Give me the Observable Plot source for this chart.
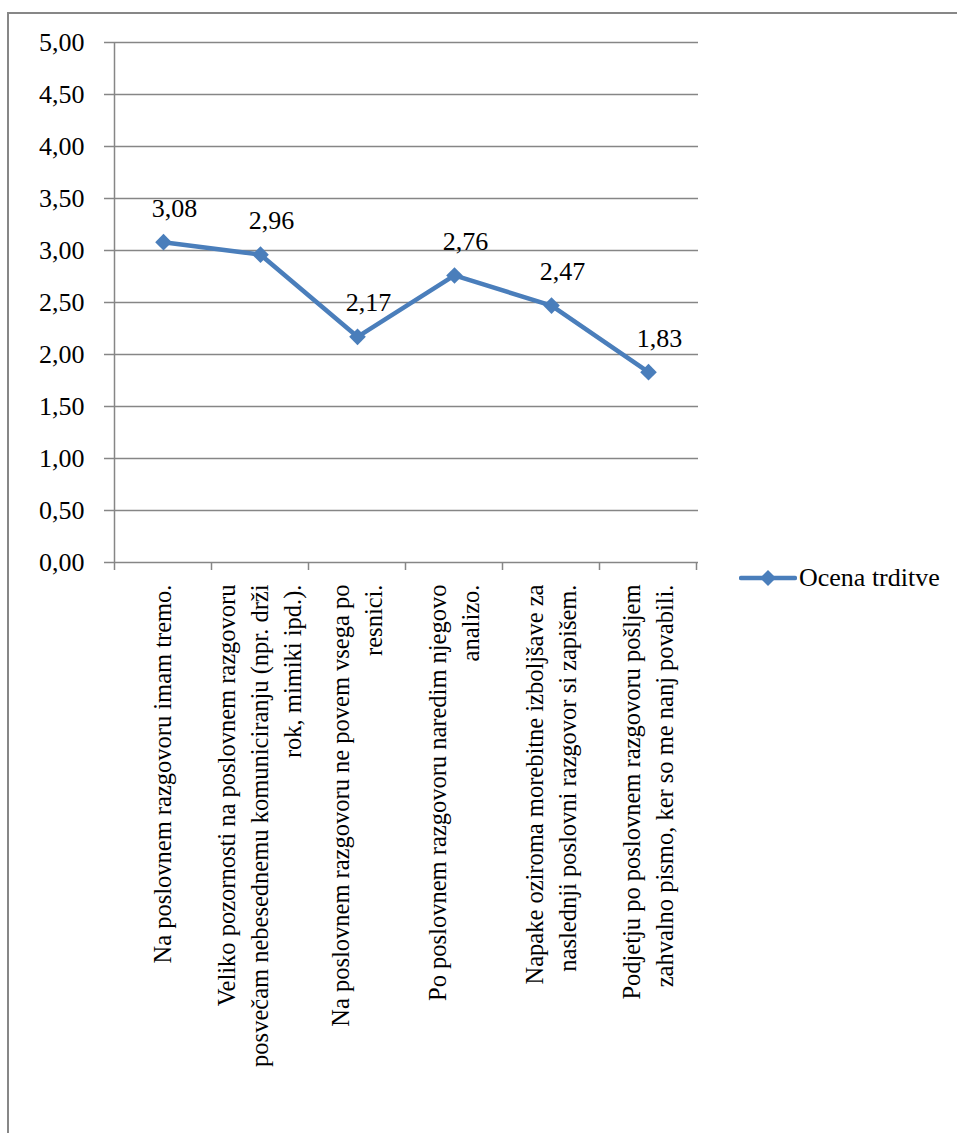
<!DOCTYPE html>
<html><head><meta charset="utf-8">
<script src="https://cdn.jsdelivr.net/npm/d3@7"></script>
<script src="https://cdn.jsdelivr.net/npm/@observablehq/plot@0.6"></script>
<style>
html,body{margin:0;padding:0;background:#fff;overflow:hidden;font-family:'Liberation Serif';}
#wrap{position:relative;width:957px;height:1133px;overflow:hidden;}
#frame{position:absolute;left:7px;top:12px;width:1000px;height:1200px;border-top:2px solid #878787;border-left:2px solid #878787;pointer-events:none;box-sizing:border-box;}
#legend{position:absolute;left:739px;top:563px;height:30px;display:flex;align-items:center;font-family:'Liberation Serif';font-size:26px;color:#000;}
#legend svg{margin-right:2px;}
</style></head><body>
<div id="wrap"><div id="chart"></div><div id="frame"></div>
<div id="legend"><svg width="58" height="30"><line x1="2" y1="15" x2="56" y2="15" stroke="#4a7ebb" stroke-width="4.5" stroke-linecap="round"/><path d="M29,7 L37,15 L29,23 L21,15Z" fill="#4a7ebb"/></svg><span id="legendText"></span></div>
</div>
<script>
const categories = [
  "Na poslovnem razgovoru imam tremo.",
  "Veliko pozornosti na poslovnem razgovoru\nposvečam nebesednemu komuniciranju (npr. drži\nrok, mimiki ipd.).",
  "Na poslovnem razgovoru ne povem vsega po\nresnici.",
  "Po poslovnem razgovoru naredim njegovo\nanalizo.",
  "Napake oziroma morebitne izboljšave za\nnaslednji poslovni razgovor si zapišem.",
  "Podjetju po poslovnem razgovoru pošljem\nzahvalno pismo, ker so me nanj povabili."
];
const values = [3.08, 2.96, 2.17, 2.76, 2.47, 1.83];
const yTicks = [0, 0.5, 1, 1.5, 2, 2.5, 3, 3.5, 4, 4.5, 5];
const seriesName = "Ocena trditve";

const table = categories.map((c, i) => ({cat: c, value: values[i]}));
const fmt = d => d.toFixed(2).replace(".", ",");
const lineColor = "#4a7ebb";
const gridColor = "#868686";
const font = "Liberation Serif";

// boundary tick marks + left axis line drawn with the plot's x scale
function categoryTicks(index, scales, values, dimensions) {
  const x = scales.x;
  const pos = categories.map(c => x(c));
  const step = pos[1] - pos[0];
  const bounds = pos.map(p => p - step / 2).concat([pos[pos.length - 1] + step / 2]);
  const yBase = dimensions.height - dimensions.marginBottom;
  const g = d3.create("svg:g");
  g.selectAll("line.t").data(bounds).join("line")
    .attr("x1", d => d).attr("x2", d => d)
    .attr("y1", yBase).attr("y2", yBase + 8)
    .attr("stroke", gridColor).attr("stroke-width", 1.5);
  g.append("line")
    .attr("x1", bounds[0]).attr("x2", bounds[0])
    .attr("y1", dimensions.marginTop).attr("y2", yBase)
    .attr("stroke", gridColor).attr("stroke-width", 1.5);
  return g.node();
}

const plot = Plot.plot({
  width: 957,
  height: 1133,
  marginLeft: 112,
  marginRight: 259,
  marginTop: 42,
  marginBottom: 571,
  style: "font-family: 'Liberation Serif'; font-size: 26px; color: #000; background: transparent; overflow: visible;",
  x: {type: "point", domain: categories, padding: 0.5, axis: null},
  y: {domain: [0, 5]},
  marks: [
    Plot.gridY(yTicks, {stroke: gridColor, strokeOpacity: 1, strokeWidth: 1.5}),
    Plot.axisY(yTicks, {tickSize: 8, tickPadding: 20, tickFormat: fmt, stroke: gridColor, strokeWidth: 1.5, fill: "#000", fontSize: 26, fontFamily: font, label: null}),
    categoryTicks,
    Plot.text(categories, {x: d => d, text: d => d, frameAnchor: "bottom", rotate: -90, textAnchor: "end", lineAnchor: "middle", dx: -3, dy: 22, lineHeight: 1.35, fontSize: 24.5, fontFamily: font, fill: "#000", ariaLabel: "catlabels"}),
    Plot.line(table, {x: "cat", y: "value", stroke: lineColor, strokeWidth: 4.5, strokeLinejoin: "round"}),
    Plot.dot(table, {x: "cat", y: "value", symbol: "diamond2", r: 7.5, fill: lineColor, stroke: "none"}),
    Plot.text(table, {x: "cat", y: "value", text: d => fmt(d.value), dx: 11, dy: -34, fontSize: 26, fontFamily: font, fill: "#000"})
  ]
});
document.getElementById("chart").append(plot);
document.getElementById("legendText").textContent = seriesName;

// center the wrapped lines of each rotated category label within its block,
// keeping the block's end next to the axis
plot.querySelectorAll('g[aria-label="catlabels"] text').forEach(t => {
  const spans = t.querySelectorAll("tspan");
  t.setAttribute("text-anchor", "middle");
  if (spans.length) {
    let L = 0;
    spans.forEach(s => { L = Math.max(L, s.getComputedTextLength()); });
    spans.forEach(s => s.setAttribute("x", -L / 2));
  } else {
    const L = t.getComputedTextLength();
    t.setAttribute("x", -L / 2);
  }
});
</script>
</body></html>
